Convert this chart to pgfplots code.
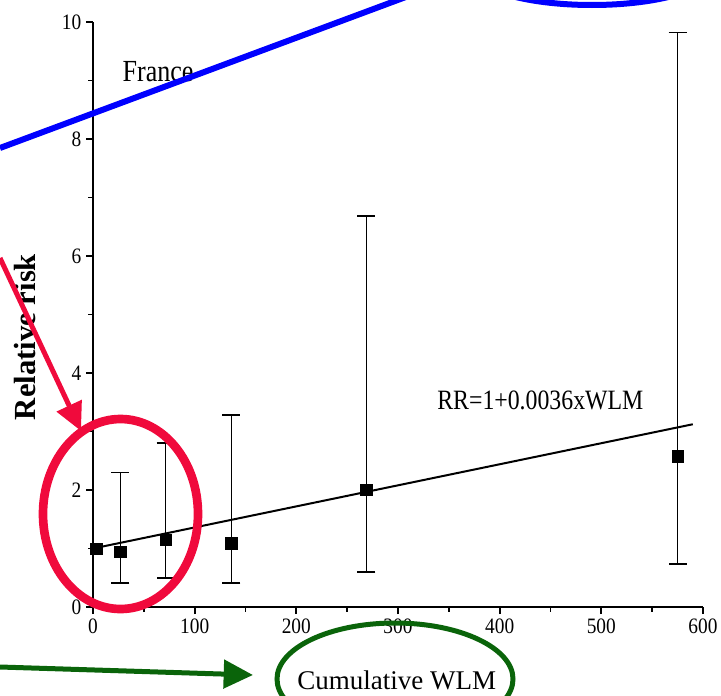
\documentclass[border=0pt]{standalone}
\usepackage{fontspec}
\setmainfont{Liberation Serif}
\newfontfamily\tickfont[FakeStretch=0.88]{Liberation Serif}
\newfontfamily\annfont[FakeStretch=0.85]{Liberation Serif}
\usepackage{pgfplots}
\pgfplotsset{compat=1.18}
\usetikzlibrary{arrows.meta}
\definecolor{annred}{RGB}{240,10,60}
\definecolor{anngreen}{RGB}{10,100,10}
\definecolor{annblue}{RGB}{0,0,255}
\begin{document}
\begin{tikzpicture}
\useasboundingbox (0,0) rectangle (540.75pt,-522pt);
\clip (0,0) rectangle (540.75pt,-522pt);
\begin{axis}[
  at={(69.75pt,-455.25pt)}, anchor=south west,
  scale only axis, width=457.5pt, height=438.75pt,
  xmin=0, xmax=600, ymin=0, ymax=10,
  axis lines=left, axis line style={-, line width=1.5pt},
  xtick={0,100,...,600}, ytick={0,2,...,10},
  minor x tick num=1, minor y tick num=1,
  tick align=outside, major tick length=5.25pt, minor tick length=3.5pt,
  every tick/.style={line width=1.3pt, black},
  /pgf/number format/assume math mode=true,
  ticklabel style={font=\tickfont\fontsize{16.5}{17}\selectfont},
  xlabel={Cumulative WLM},
  ylabel={\bfseries Relative risk},
  xlabel style={font=\fontsize{20.25}{22}\selectfont, at={(axis description cs:0.498,-0.126)}, anchor=center},
  ylabel style={font=\fontsize{23}{25}\selectfont, at={(axis description cs:-0.111,0.4615)}, anchor=center},
  clip=false,
]
\addplot[no marks, black, line width=1.5pt] coordinates {(0,1) (590,3.124)};
\addplot[only marks, mark=square*, mark size=4.3pt, black,
  error bars/.cd, y dir=both, y explicit,
  error bar style={line width=1.1pt, black},
  error mark options={rotate=90, mark size=6.75pt, line width=1.3pt, black}]
  table[x=x, y=y, y error plus=ep, y error minus=em] {
  x y ep em
  27 0.945 1.355 0.54
  71.5 1.145 1.655 0.655
  136 1.09 2.19 0.685
  269 2.0 4.68 1.40
  575 2.58 7.24 1.85
};
\addplot[only marks, mark=square*, mark size=4.3pt, black] coordinates {(3,1.0)};
\node[font=\annfont\fontsize{23}{24}\selectfont] at (axis cs:64,9.16) {France};
\node[font=\annfont\fontsize{21}{22}\selectfont] at (axis cs:440,3.54) {RR=1+0.0036xWLM};
\end{axis}
\begin{scope}[x=0.75pt,y=-0.75pt]
\draw[annblue, line width=4.5pt] (0,148) -- (430,-12);
\draw[annblue, line width=4.5pt] (592,-30) ellipse [x radius=120, y radius=35];
\draw[annred, line width=6.5pt] (120.5,514) ellipse [x radius=77.5, y radius=95];
\draw[annred, line width=3.75pt, -{Triangle[length=21pt,width=20pt]}] (0,258) -- (81,431);
\draw[anngreen, line width=3.75pt, -{Triangle[length=22pt,width=21pt]}] (0,667) -- (253,675);
\draw[anngreen, line width=3.75pt] (395,679) ellipse [x radius=118, y radius=56];
\end{scope}
\end{tikzpicture}
\end{document}
